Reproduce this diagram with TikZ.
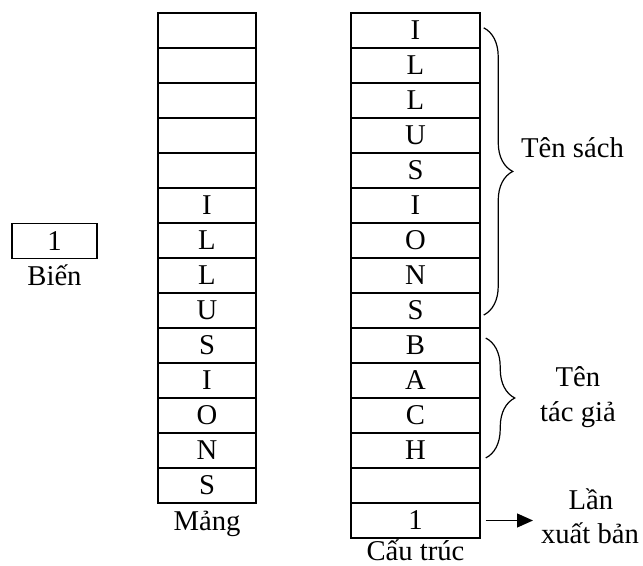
\documentclass[tikz,border=0pt]{standalone}
\usepackage{fontspec}
\setmainfont{Liberation Serif}
\usetikzlibrary{positioning,decorations.pathreplacing,arrows.meta}

\begin{document}
\begin{tikzpicture}[x=0.75pt,y=-0.75pt,every node/.style={font=\fontsize{21.5pt}{25.8pt}\selectfont}]
\tikzstyle{cell}=[rectangle, draw=black, line width=1.1pt, minimum height=26.25pt, inner sep=0pt]
\tikzstyle{arr}=[cell, minimum width=73.5pt]
\tikzstyle{rec}=[cell, minimum width=96.75pt]
\tikzstyle{var}=[cell, minimum width=63.75pt]
\tikzstyle{txt}=[inner sep=0pt, anchor=base]
\tikzstyle{brace}=[decorate, decoration={brace, amplitude=21.75pt}, line width=0.9pt]
\tikzstyle{connect}=[-{Triangle[length=12pt,width=10.5pt]}, line width=0.9pt]
\useasboundingbox (0,0) rectangle (643,566);

	% bien
	\node[var] (bien) at (54.5,241) {1};
	\node[txt] (lbien) at ([yshift=-19.5pt]bien.south) {Biến};

	% mang
	\foreach \t [count=\i] in {{},{},{},{},{},I,L,L,U,S,I,O,N,S}
		\node[arr] (m\i) at (207,30.5+35*\i-35) {\t};
	\node[txt] (lmang) at ([yshift=-20.25pt]m14.south) {Mảng};

	% cau truc
	\foreach \t [count=\i] in {I,L,L,U,S,I,O,N,S,B,A,C,H,{},1}
		\node[rec] (c\i) at (415.5,30.5+35*\i-35) {\t};
	\node[txt] (lcau) at ([yshift=-16.5pt]c15.south) {Cấu trúc};

	% nhan
	\node[txt] (tsach) at (572.5,158) {Tên sách};
	\node[txt] (tg1) at (578,387) {Tên};
	\node[txt] (tg2) at (578,422) {tác giả};
	\node[txt] (lx1) at (591,510) {Lần};
	\node[txt] (lx2) at (590,543) {xuất bản};
	\coordinate (xtip) at (533,0);

	\draw[brace] ([xshift=2.25pt,yshift=2pt]c1.east) -- ([xshift=2.25pt,yshift=-3.4pt]c9.east);
	\draw[brace] ([xshift=3.75pt,yshift=5.6pt]c10.east) -- ([xshift=3.75pt,yshift=-5.6pt]c13.east);
	\draw[connect] ([xshift=3.75pt]c15.east) -- (c15.east -| xtip);

\end{tikzpicture}
\end{document}
